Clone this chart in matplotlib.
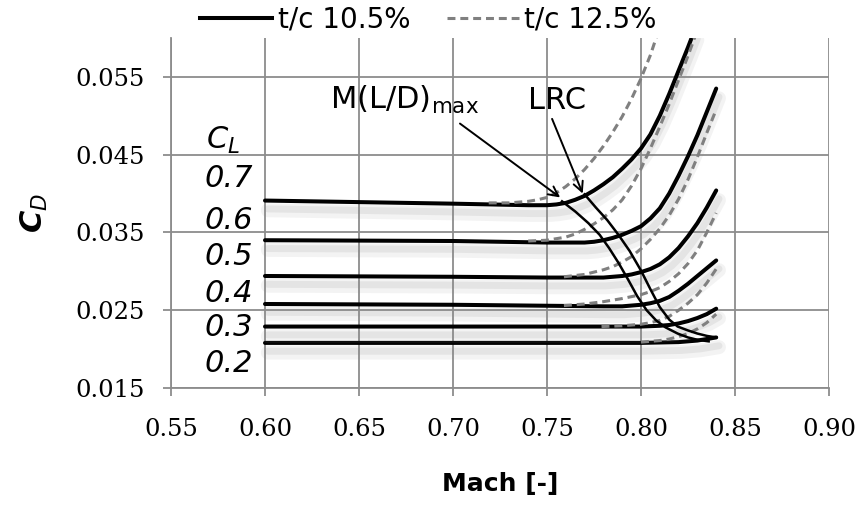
import numpy as np
import matplotlib
matplotlib.use("Agg")
import matplotlib.pyplot as plt
import matplotlib.patheffects as pe

# drag polar data, t/c 10.5% (solid)
mach_02 = [0.60, 0.70, 0.80, 0.82, 0.825, 0.83, 0.835, 0.84]
cd_02 = [0.0208, 0.0208, 0.0208, 0.0209, 0.0210, 0.0211, 0.0213, 0.0215]
mach_03 = [0.60, 0.70, 0.80, 0.81, 0.815, 0.82, 0.825, 0.83, 0.835, 0.84]
cd_03 = [0.0229, 0.0229, 0.0229, 0.0230, 0.0231, 0.0233, 0.0236, 0.0240, 0.0245, 0.0252]
mach_04 = [0.60, 0.70, 0.78, 0.79, 0.80, 0.805, 0.81, 0.815, 0.82, 0.825, 0.83, 0.835, 0.84]
cd_04 = [0.0258, 0.0257, 0.0255, 0.0255, 0.0257, 0.0259, 0.0262, 0.0267, 0.0275, 0.0284,
         0.0294, 0.0304, 0.0314]
mach_05 = [0.60, 0.70, 0.75, 0.78, 0.785, 0.79, 0.795, 0.80, 0.805, 0.81, 0.815, 0.82,
           0.825, 0.83, 0.835, 0.84]
cd_05 = [0.0294, 0.0293, 0.0292, 0.0292, 0.0293, 0.0294, 0.0296, 0.0299, 0.0303, 0.0309,
         0.0318, 0.0330, 0.0345, 0.0362, 0.0382, 0.0404]
mach_06 = [0.60, 0.70, 0.75, 0.77, 0.775, 0.78, 0.785, 0.79, 0.795, 0.80, 0.805, 0.81,
           0.815, 0.82, 0.825, 0.83, 0.835, 0.84]
cd_06 = [0.0340, 0.0339, 0.0337, 0.0337, 0.0338, 0.0340, 0.0343, 0.0347, 0.0352, 0.0358,
         0.0368, 0.0381, 0.0400, 0.0423, 0.0448, 0.0475, 0.0505, 0.0535]
mach_07 = [0.60, 0.65, 0.70, 0.74, 0.75, 0.755, 0.76, 0.765, 0.77, 0.775, 0.78, 0.785,
           0.79, 0.795, 0.80, 0.805, 0.81, 0.815, 0.82, 0.825, 0.8285]
cd_07 = [0.0391, 0.0389, 0.0387, 0.0385, 0.0385, 0.0386, 0.0388, 0.0392, 0.0397, 0.0404,
         0.0412, 0.0421, 0.0432, 0.0444, 0.0458, 0.0476, 0.0500, 0.0528, 0.0558, 0.0588,
         0.0610]

# t/c 12.5% (dashed)
mach_02b = [0.80, 0.81, 0.815, 0.82, 0.825, 0.83, 0.835, 0.84]
cd_02b = [0.0209, 0.0211, 0.0213, 0.0216, 0.0220, 0.0226, 0.0234, 0.0245]
mach_03b = [0.779, 0.79, 0.80, 0.805, 0.81, 0.815, 0.82, 0.825, 0.83, 0.835, 0.84]
cd_03b = [0.0229, 0.0230, 0.0232, 0.0234, 0.0237, 0.0242, 0.0250, 0.0259, 0.0270, 0.0285,
          0.0303]
mach_04b = [0.759, 0.77, 0.78, 0.79, 0.80, 0.805, 0.81, 0.815, 0.82, 0.825, 0.83, 0.835,
            0.84]
cd_04b = [0.0256, 0.0258, 0.0261, 0.0265, 0.0270, 0.0274, 0.0279, 0.0287, 0.0297, 0.0310,
          0.0327, 0.0350, 0.0375]
mach_05b = [0.759, 0.77, 0.78, 0.785, 0.79, 0.795, 0.80, 0.805, 0.81, 0.815, 0.82, 0.825,
            0.83, 0.835, 0.84]
cd_05b = [0.0293, 0.0296, 0.0302, 0.0306, 0.0312, 0.0319, 0.0329, 0.0341, 0.0355, 0.0372,
          0.0393, 0.0418, 0.0447, 0.0478, 0.0508]
mach_06b = [0.74, 0.75, 0.76, 0.765, 0.77, 0.775, 0.78, 0.785, 0.79, 0.795, 0.80, 0.805,
            0.81, 0.815, 0.82, 0.825, 0.8295]
cd_06b = [0.0339, 0.0340, 0.0344, 0.0348, 0.0354, 0.0361, 0.0369, 0.0379, 0.0392, 0.0410,
          0.0432, 0.0458, 0.0486, 0.0515, 0.0546, 0.0577, 0.0607]
mach_07b = [0.719, 0.73, 0.74, 0.745, 0.75, 0.755, 0.76, 0.765, 0.77, 0.775, 0.78, 0.785,
            0.79, 0.795, 0.80, 0.805, 0.809]
cd_07b = [0.0388, 0.0388, 0.0390, 0.0392, 0.0395, 0.0401, 0.0409, 0.0419, 0.0431, 0.0445,
          0.0461, 0.0479, 0.0499, 0.0522, 0.0548, 0.0578, 0.0607]

# cruise speed lines
mach_ldmax = [0.758, 0.765, 0.772, 0.778, 0.783, 0.788, 0.793, 0.798, 0.803, 0.808, 0.813,
              0.8195, 0.825, 0.830, 0.836]
cd_ldmax = [0.0390, 0.0377, 0.0362, 0.0347, 0.0330, 0.0311, 0.0290, 0.0268, 0.0250, 0.0237,
            0.0228, 0.0220, 0.0215, 0.0212, 0.0210]
mach_lrc = [0.770, 0.776, 0.782, 0.788, 0.794, 0.800, 0.805, 0.810, 0.815, 0.8195, 0.825,
            0.830, 0.835, 0.840]
cd_lrc = [0.0399, 0.0382, 0.0366, 0.0347, 0.0326, 0.0301, 0.0277, 0.0254, 0.0238, 0.0229,
          0.0224, 0.0220, 0.0217, 0.0215]

cl_labels = ["0.7", "0.6", "0.5", "0.4", "0.3", "0.2"]
cl_label_y = [0.0419, 0.0365, 0.0319, 0.0272, 0.0228, 0.0181]

solid = [(mach_02, cd_02), (mach_03, cd_03), (mach_04, cd_04),
         (mach_05, cd_05), (mach_06, cd_06), (mach_07, cd_07)]
dashed = [(mach_02b, cd_02b), (mach_03b, cd_03b), (mach_04b, cd_04b),
          (mach_05b, cd_05b), (mach_06b, cd_06b), (mach_07b, cd_07b)]

hand = "DejaVu Sans"
grid_col = "#8c8c8c"

fig = plt.figure(figsize=(8.57, 5.15), dpi=100)
ax = fig.add_axes([171 / 857, 1 - 388 / 515, 658 / 857, 350 / 515])

ax.set_xlim(0.55, 0.90)
ax.set_ylim(0.015, 0.060)
xt = np.arange(0.55, 0.901, 0.05)
yt = [0.015, 0.025, 0.035, 0.045, 0.055]
ax.set_xticks(xt)
ax.set_yticks(yt)
ax.set_xticklabels([f"{v:.2f}" for v in xt])
ax.set_yticklabels([f"{v:.3f}" for v in yt])
ax.grid(True, color=grid_col, lw=1.3)
ax.set_axisbelow(True)
for s in ["top", "right"]:
    ax.spines[s].set_visible(False)
for s in ["left", "bottom"]:
    ax.spines[s].set_color(grid_col)
    ax.spines[s].set_linewidth(1.3)
ax.tick_params(axis="both", length=5.8, width=1.3, color=grid_col, labelsize=17.5)
ax.tick_params(axis="x", pad=16)
ax.tick_params(axis="y", pad=13)
for lab in ax.get_xticklabels() + ax.get_yticklabels():
    lab.set_family("DejaVu Serif")

shadow = [pe.SimpleLineShadow(offset=(2, -7), shadow_color="0.55", alpha=0.10, linewidth=10),
          pe.SimpleLineShadow(offset=(2, -6), shadow_color="0.55", alpha=0.14, linewidth=5),
          pe.Normal()]

for m, cd in solid:
    ax.plot(m, cd, color="black", lw=2.9, solid_capstyle="round",
            solid_joinstyle="round", path_effects=shadow, zorder=3)
for m, cd in dashed:
    ax.plot(m, cd, color="#808080", lw=2.2, dashes=(2.6, 1.6), zorder=4)

ax.plot(mach_ldmax, cd_ldmax, color="black", lw=1.8, zorder=5)
ax.plot(mach_lrc, cd_lrc, color="black", lw=1.8, zorder=5)

# C_L labels
ax.text(0.5777, 0.0468, "C$_L$", family=hand, style="italic", fontsize=22,
        ha="center", va="center")
for lab, yy in zip(cl_labels, cl_label_y):
    ax.text(0.5809, yy, lab, family=hand, style="italic", fontsize=22,
            ha="center", va="center")

arrow = dict(arrowstyle="->,head_length=0.7,head_width=0.35", color="black", lw=1.4,
             shrinkA=0, shrinkB=0)
ax.annotate("", xy=(0.757, 0.0395), xytext=(0.7037, 0.0490), arrowprops=arrow, zorder=6)
ax.annotate("", xy=(0.769, 0.0400), xytext=(0.7527, 0.0496), arrowprops=arrow, zorder=6)
ax.text(0.6346, 0.0509, r"M(L/D)$_{\mathrm{max}}$", family=hand, fontsize=22,
        ha="left", va="baseline")
ax.text(0.7399, 0.0509, "LRC", family=hand, fontsize=22, ha="left", va="baseline")

ax.set_xlabel("Mach [-]", family=hand, fontsize=18, fontweight="bold", labelpad=22)
ax.set_ylabel("C$_D$", family=hand, fontsize=22, fontweight="bold", style="italic",
              labelpad=18)

h1, = ax.plot([], [], color="black", lw=2.9)
h2, = ax.plot([], [], color="#808080", lw=2.2, dashes=(2.6, 1.6))
fig.legend([h1, h2], ["t/c 10.5%", "t/c 12.5%"], loc="center",
           bbox_to_anchor=(0.5, 1 - 20 / 515), ncol=2, frameon=False,
           prop={"family": hand, "size": 20}, handlelength=2.6,
           handletextpad=0.2, columnspacing=1.3)

fig.savefig("out.png", dpi=100)
